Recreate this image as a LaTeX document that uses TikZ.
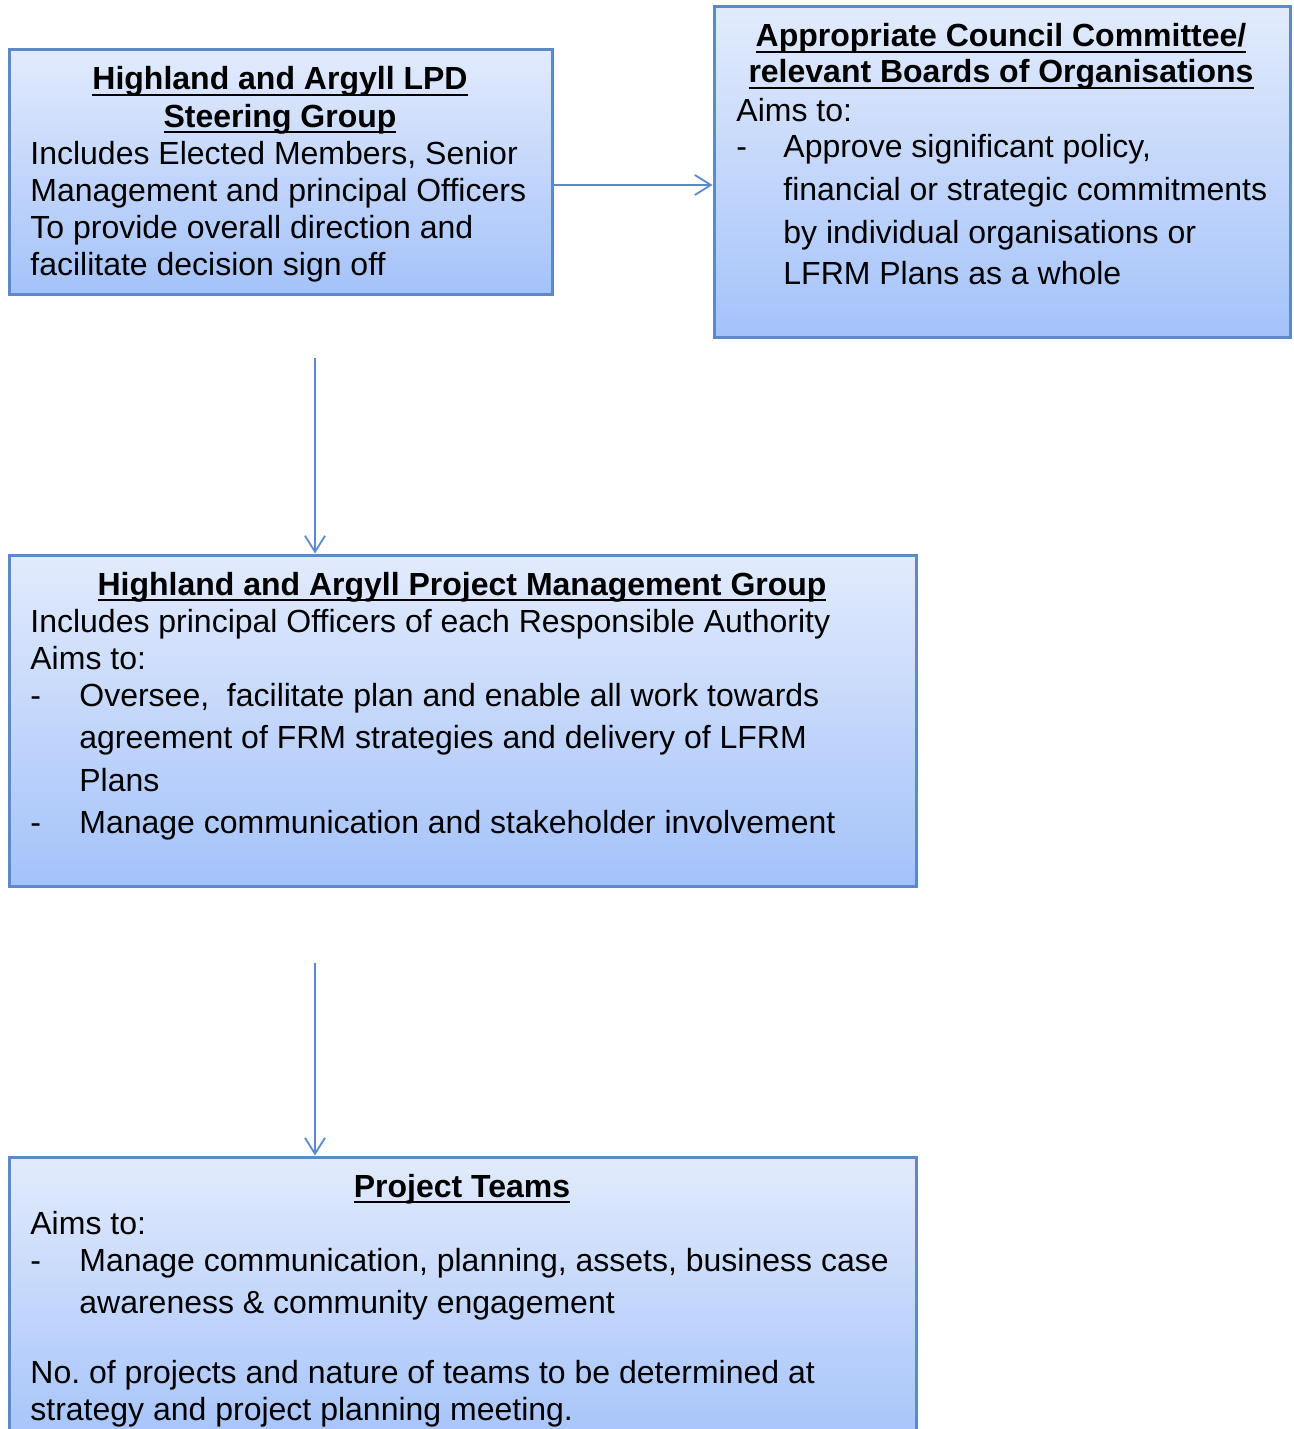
\documentclass[tikz,border=0pt]{standalone}
\usepackage{fontspec}
\setmainfont{Liberation Sans}
\usetikzlibrary{fit,arrows.meta}
\definecolor{bord}{RGB}{92,138,200}
\definecolor{topc}{RGB}{226,235,252}
\definecolor{botc}{RGB}{164,194,250}
\newcommand\myul[1]{\setbox0\hbox{#1}\rlap{\rule[-2.9pt]{\wd0}{1.1pt}}\box0}
\tikzset{
  box/.style={draw=bord, line width=1.5pt, top color=topc, bottom color=botc, inner sep=0pt},
  txt/.style={inner sep=0pt, anchor=base west, font=\fontsize{16pt}{18.5pt}\selectfont},
  ttl/.style={inner sep=0pt, anchor=base, font=\fontsize{16pt}{18.5pt}\selectfont\bfseries},
  arr/.style={draw=bord, line width=0.9pt, -{Straight Barb[length=8pt,width=10pt,line width=0.9pt]}}
}
\begin{document}
\begin{tikzpicture}[x=0.5pt,y=-0.5pt]
\clip (0,0) rectangle (1294,1429);
% boxes
\node[box, fit={(9,50) (552,294)}] (b1) {};
\node[box, fit={(714,7) (1290,337)}] (b2) {};
\node[box, fit={(9,555) (916,886)}] (b3) {};
\node[box, fit={(9,1157) (916,1450)}] (b4) {};
% box 1 text
\node[ttl] (t1a) at (280,90) {\myul{Highland and Argyll LPD}};
\node[ttl] (t1b) at (280,127) {\myul{Steering Group}};
\node[txt] (t1c) at (30,164) {Includes Elected Members, Senior};
\node[txt] (t1d) at (30,201) {Management and principal Officers};
\node[txt] (t1e) at (30,238) {To provide overall direction and};
\node[txt] (t1f) at (30,275) {facilitate decision sign off};
% box 2 text
\node[ttl] (t2a) at (1001,47) {\myul{Appropriate Council Committee/}};
\node[ttl] (t2b) at (1001,83) {\myul{relevant Boards of Organisations}};
\node[txt] (t2c) at (736,121) {Aims to:};
\node[txt] (t2d) at (736,157) {-};
\node[txt] (t2e) at (783,157) {Approve significant policy,};
\node[txt] (t2f) at (783,200) {financial or strategic commitments};
\node[txt] (t2g) at (783,243) {by individual organisations or};
\node[txt] (t2h) at (783,284) {LFRM Plans as a whole};
% box 3 text
\node[ttl] (t3a) at (462,595) {\myul{Highland and Argyll Project Management Group}};
\node[txt] (t3b) at (30,632) {Includes principal Officers of each Responsible Authority};
\node[txt] (t3c) at (30,669) {Aims to:};
\node[txt] (t3d) at (30,706) {-};
\node[txt] (t3e) at (79,706) {Oversee,\ \ facilitate plan and enable all work towards};
\node[txt] (t3f) at (79,748) {agreement of FRM strategies and delivery of LFRM};
\node[txt] (t3g) at (79,791) {Plans};
\node[txt] (t3h) at (30,833) {-};
\node[txt] (t3i) at (79,833) {Manage communication and stakeholder involvement};
% box 4 text
\node[ttl] (t4a) at (462,1197) {\myul{Project Teams}};
\node[txt] (t4b) at (30,1234) {Aims to:};
\node[txt] (t4c) at (30,1271) {-};
\node[txt] (t4d) at (79,1271) {Manage communication, planning, assets, business case};
\node[txt] (t4e) at (79,1313) {awareness \& community engagement};
\node[txt] (t4f) at (30,1383) {No.\ of projects and nature of teams to be determined at};
\node[txt] (t4g) at (30,1420) {strategy and project planning meeting.};
% connectors
\coordinate (h1) at (552,185);
\coordinate (s1) at (315,358);
\coordinate (s2) at (315,963);
\draw[arr] (b1.east |- h1) -- (b2.west |- h1);
\draw[arr] (s1) -- (s1 |- b3.north);
\draw[arr] (s2) -- (s2 |- b4.north);
\end{tikzpicture}
\end{document}
